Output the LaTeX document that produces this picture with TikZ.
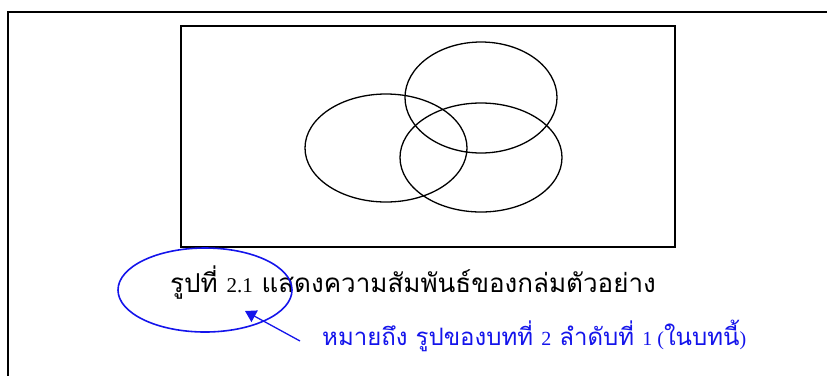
\documentclass[tikz,border=0pt]{standalone}
\usepackage{fontspec}
\setmainfont{Liberation Serif}
\newfontfamily\thaifont[Script=Thai]{Loma}
\usetikzlibrary{arrows.meta,shapes.geometric}
\definecolor{capblue}{RGB}{20,20,235}
\tikzset{
  frame/.style={line width=2pt,draw=black},
  venn/.style={ellipse,draw=black,line width=1.3pt,inner sep=0pt,outer sep=0pt},
  note/.style={ellipse,draw=capblue,line width=1.6pt,inner sep=0pt,outer sep=0pt},
  pointer/.style={draw=capblue,line width=1.3pt,-{Triangle[length=11pt,width=13pt]}},
  captext/.style={inner sep=0pt,anchor=base west,font=\thaifont\fontsize{26}{26}\selectfont},
  notetext/.style={inner sep=0pt,anchor=base west,text=capblue,font=\thaifont\fontsize{24}{24}\selectfont}
}
\begin{document}
\begin{tikzpicture}[x=1pt,y=-1pt]
\useasboundingbox (0,0) rectangle (827,376);
\coordinate (fr) at (827,12);
\coordinate (fc) at (8,12);
\coordinate (fb) at (8,376);
\draw[frame] (fr) -- (fc) -- (fb);
\node[draw=black,line width=1.5pt,inner sep=0pt,minimum width=494pt,minimum height=221pt] (box) at (428,136.5) {};
\node[venn,minimum width=162pt,minimum height=108pt] (left) at (386,148) {};
\node[venn,minimum width=152pt,minimum height=111pt] (top) at (481,97.5) {};
\node[venn,minimum width=162pt,minimum height=109pt] (right) at (481,157.5) {};
\node[captext] (cap) at (170,292) {รูปที่ {\rmfamily\fontsize{21}{21}\selectfont 2.1} แสดงความสัมพันธ์ของกล่มตัวอย่าง};
\node[note,minimum width=174pt,minimum height=84pt] (mark) at (205,290) {};
\node[notetext] (explain) at (322,345) {หมายถึง รูปของบทที่ {\rmfamily\fontsize{20}{20}\selectfont 2} ลำดับที่ {\rmfamily\fontsize{20}{20}\selectfont 1 (}ในบทนี้{\rmfamily\fontsize{20}{20}\selectfont )}};
\coordinate (tail) at (300,341);
\coordinate (tip) at (245,311);
\draw[pointer] (tail) -- (tip);
\end{tikzpicture}
\end{document}
